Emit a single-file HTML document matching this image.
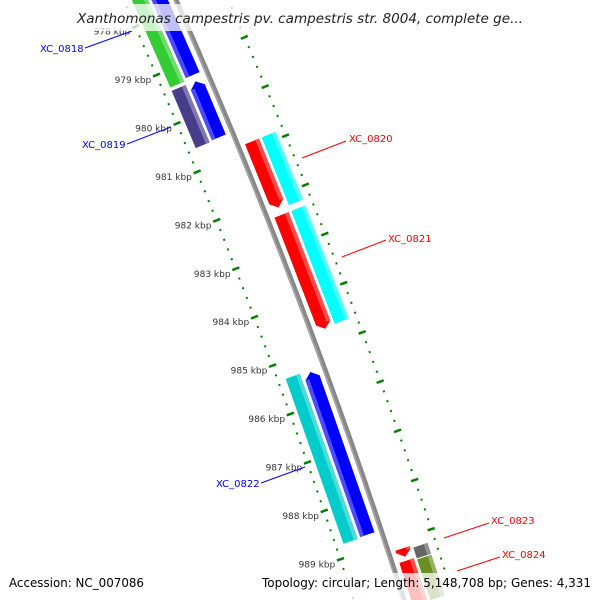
<!DOCTYPE html>
<html><head><meta charset="utf-8"><style>
html,body{margin:0;padding:0;background:#fff;overflow:hidden;width:600px;height:600px}
svg{display:block;overflow:hidden}
</style></head><body>
<svg id="chart" width="600" height="600" viewBox="0 0 600 600" xmlns="http://www.w3.org/2000/svg" font-family="'DejaVu Sans','Liberation Sans',sans-serif">
<defs><clipPath id="frame"><rect x="0" y="0" width="600" height="600"/></clipPath></defs>
<g id="plot" clip-path="url(#frame)"></g>
<g id="labels">
  <line x1="85" y1="48" x2="132" y2="31" stroke="#0000ff" stroke-width="1"/>
  <text x="40" y="52" font-size="10" fill="#0000ff">XC_0818</text>
  <line x1="127" y1="144" x2="171" y2="127" stroke="#0000ff" stroke-width="1"/>
  <text x="82" y="148" font-size="10" fill="#0000ff">XC_0819</text>
  <line x1="302" y1="158" x2="346" y2="141" stroke="#ff0000" stroke-width="1"/>
  <text x="349" y="142" font-size="10" fill="#ff0000">XC_0820</text>
  <line x1="342" y1="257" x2="386" y2="240" stroke="#ff0000" stroke-width="1"/>
  <text x="388" y="242" font-size="10" fill="#ff0000">XC_0821</text>
  <line x1="261" y1="483" x2="305" y2="467" stroke="#0000ff" stroke-width="1"/>
  <text x="216" y="487" font-size="10" fill="#0000ff">XC_0822</text>
  <line x1="444" y1="538" x2="489" y2="523" stroke="#ff0000" stroke-width="1"/>
  <text x="491" y="524" font-size="10" fill="#ff0000">XC_0823</text>
  <line x1="457" y1="571" x2="500" y2="557" stroke="#ff0000" stroke-width="1"/>
  <text x="502" y="558" font-size="10" fill="#ff0000">XC_0824</text>
</g>
<rect x="72" y="4" width="456" height="27" fill="#fff" fill-opacity="0.75"/>
<text x="77" y="23" font-size="13" font-style="italic" fill="#222" textLength="446" lengthAdjust="spacingAndGlyphs">Xanthomonas campestris pv. campestris str. 8004, complete ge...</text>
<rect x="0" y="573" width="600" height="27" fill="#fff" fill-opacity="0.75"/>
<text x="9" y="587" font-size="12" fill="#000" textLength="135" lengthAdjust="spacingAndGlyphs">Accession: NC_007086</text>
<text x="262" y="587" font-size="12" fill="#000" textLength="329" lengthAdjust="spacingAndGlyphs">Topology: circular; Length: 5,148,708 bp; Genes: 4,331</text>
</svg>
<script>
// ---- data ----
const featStart = [976.5, 976.5, 979.39, 979.40, 980.86, 980.86, 982.36, 982.36, 985.33, 985.37, 989.18, 989.23, 989.43, 989.47];
const featEnd   = [979.32, 979.27, 980.57, 980.55, 982.21, 982.24, 984.69, 984.66, 988.73, 988.71, 989.35, 989.45, 990.3, 990.3];
const featRing  = [-2, -1, -2, -1, 1, 2, 1, 2, -2, -1, 1, 2, 1, 2];
const featColor = ["#33cc33", "#0000ff", "#483d8b", "#0000ff", "#ff0000", "#00ffff", "#ff0000", "#00ffff", "#00cccc", "#0000ff", "#ff0000", "#666666", "#ff0000", "#6b8e23"];
const featArrow = ["none", "start", "none", "start", "end", "none", "end", "none", "none", "start", "end", "none", "none", "none"];
const tickMajor = [977, 978, 979, 980, 981, 982, 983, 984, 985, 986, 987, 988, 989];
const tickLabels = ["977 kbp", "978 kbp", "979 kbp", "980 kbp", "981 kbp", "982 kbp", "983 kbp", "984 kbp", "985 kbp", "986 kbp", "987 kbp", "988 kbp", "989 kbp"];

// ---- axis mapping ----
const NS = "http://www.w3.org/2000/svg";
function yb(k){ return 105 + 48.8 * (k - 980); }
function xc(y){ return 176 + 0.44 * y - 1e-4 * y * y; }
function P(k, r){
  const y = yb(k), s = 0.44 - 2e-4 * y, L = Math.sqrt(1 + s * s);
  return [xc(y) + r / L, y - r * s / L];
}
const ringR = {"-2":[-40,-25], "-1":[-22,-7], "1":[7,22], "2":[25,40]};
const plot = document.getElementById('plot');
function mk(tag, attrs){
  const e = document.createElementNS(NS, tag);
  for (const a in attrs) e.setAttribute(a, attrs[a]);
  return e;
}
function pts(arr){ return arr.map(p => p[0].toFixed(1) + ',' + p[1].toFixed(1)).join(' '); }
function lighten(c, f){
  const n = parseInt(c.slice(1), 16);
  let r = n >> 16, g = (n >> 8) & 255, b = n & 255;
  r = Math.round(r + (255 - r) * f); g = Math.round(g + (255 - g) * f); b = Math.round(b + (255 - b) * f);
  return 'rgb(' + r + ',' + g + ',' + b + ')';
}

// backbone
const bb = [];
for (let k = 976; k <= 990.4; k += 0.25) bb.push(P(k, 0));
const bbLine = mk('polyline', {points: pts(bb), fill: 'none', stroke: '#888', 'stroke-width': 5});


plot.appendChild(bbLine);
const bbHi = mk('polyline', {points: pts(bb.map((p, i) => P(976 + i * 0.25, -1.5))), fill: 'none', stroke: '#aaa', 'stroke-width': 1.2});


plot.appendChild(bbHi);

// ticks
for (const side of [-1, 1]) {
  for (let i = 0; i < tickMajor.length; i++) {
    for (let j = 0; j < 5; j++) {
      const k = tickMajor[i] + j * 0.2;
      if (yb(k) > 612) continue;
      const major = j === 0;
      const r0 = side * (major ? 44 : 47), r1 = side * (major ? 51.5 : 49);
      const a = P(k, r0), b = P(k, r1);
      const t = mk('line', {x1: a[0], y1: a[1], x2: b[0], y2: b[1], stroke: '#008000', 'stroke-width': major ? 2.5 : 2});
      
      
      plot.appendChild(t);
    }
    if (side === -1) {
      const p = P(tickMajor[i], -48);
      const tx = mk('text', {x: p[0] - 5, y: p[1] + 8, 'text-anchor': 'end', 'font-size': 9, fill: '#333'});
      tx.textContent = tickLabels[i];
      
      
      plot.appendChild(tx);
    }
  }
}

// features
for (let i = 0; i < featStart.length; i++) {
  const [ra, rb] = ringR[String(featRing[i])];
  const k1 = featStart[i], k2 = featEnd[i], rm = (ra + rb) / 2, ah = 0.12;
  let poly;
  if (featArrow[i] === 'end') {
    poly = [P(k1, ra), P(k1, rb), P(k2 - ah, rb), P(k2, rm), P(k2 - ah, ra)];
  } else if (featArrow[i] === 'start') {
    poly = [P(k1 + ah, ra), P(k1, rm), P(k1 + ah, rb), P(k2, rb), P(k2, ra)];
  } else {
    poly = [P(k1, ra), P(k1, rb), P(k2, rb), P(k2, ra)];
  }
  const g = mk('g', {});
  
  
  const body = mk('polygon', {points: pts(poly), fill: featColor[i]});
  
  
  g.appendChild(body);
  const isBlue = featColor[i] === '#0000ff';
  const sa = isBlue ? ra : rb - 4, sb = isBlue ? ra + 4 : rb;
  const kk1 = featArrow[i] === 'start' ? k1 + ah : k1, kk2 = featArrow[i] === 'end' ? k2 - ah : k2;
  const stripe = mk('polygon', {points: pts([P(kk1, sa), P(kk1, sb), P(kk2, sb), P(kk2, sa)]), fill: lighten(featColor[i], 0.3)});
  
  
  g.appendChild(stripe);
  plot.appendChild(g);
}
</script>
</body></html>
